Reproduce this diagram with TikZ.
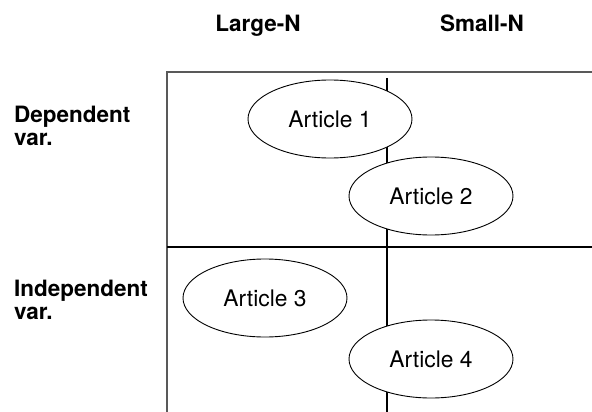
\documentclass[tikz,border=0pt]{standalone}
\usepackage{fontspec}
\setmainfont{TeX Gyre Heros}
\usetikzlibrary{shapes.geometric}

\begin{document}
\begin{tikzpicture}[x=1pt, y=-1pt,
    article/.style={ellipse, draw, fill=white, line width=0.9pt, minimum width=164pt, minimum height=78pt, inner sep=0pt, font=\fontsize{22.8}{26}\selectfont},
    header/.style={inner sep=0pt, font=\fontsize{22.5}{23.5}\selectfont\bfseries},
    frame/.style={line width=1.1pt, black!65},
    divider/.style={line width=2pt}]
    \useasboundingbox (0,0) rectangle (592,412);

    % outer frame, open to the right and bottom
    \draw[frame] (592,72) -- (167,72) -- (167,412);
    \draw[divider] (387,78) -- (387,412);
    \draw[divider] (167,247) -- (592,247);

    % column and row headers
    \node[header, anchor=base] (largeN) at (258,32) {Large-N};
    \node[header, anchor=base] (smallN) at (482,32) {Small-N};
    \node[header, anchor=west, align=left] (depvar) at (14,126) {Dependent\\var.};
    \node[header, anchor=west, align=left] (indepvar) at (14,300) {Independent\\var.};

    % articles
    \node[article] (art1) at (330,119) {Article 1};
    \node[article] (art2) at (431,196) {Article 2};
    \node[article] (art3) at (265,298) {Article 3};
    \node[article] (art4) at (431,359) {Article 4};
\end{tikzpicture}
\end{document}
